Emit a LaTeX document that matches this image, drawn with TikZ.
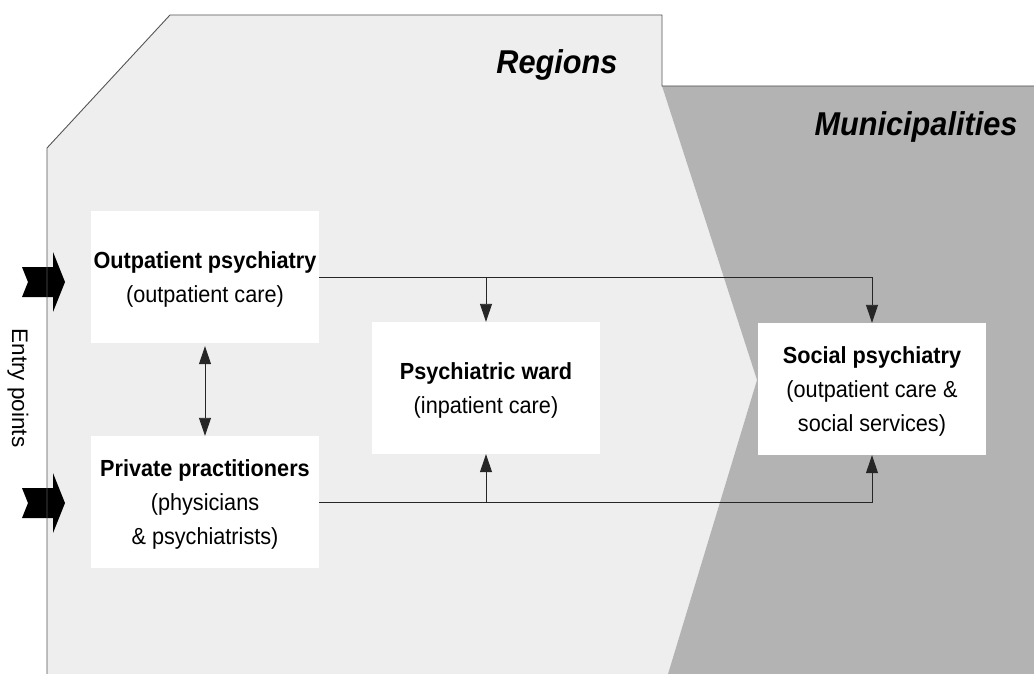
\documentclass[tikz,border=0pt]{standalone}
\usepackage{fontspec}
\setmainfont{Liberation Sans}[FakeStretch=0.93]
\newfontfamily\plainsans{Liberation Sans}
\usetikzlibrary{arrows.meta}
\definecolor{regiongray}{HTML}{EEEEEE}
\definecolor{mungray}{HTML}{B3B3B3}
\definecolor{edgegray}{HTML}{555555}
\tikzset{
  unit/.style={fill=white, minimum width=228pt, minimum height=132pt, inner sep=0pt,
    align=center, font=\fontsize{23.3}{34}\selectfont, text depth=-7pt},
  flow/.style={draw=black!85, line width=0.9pt, -{Triangle[length=18pt,width=12pt]}},
  area/.style={font=\fontsize{33}{38}\selectfont\bfseries\itshape},
  entryarrow/.pic={
    \fill[black] (0,-15) -- (31,-15) -- (31,-30) -- (43,0) -- (31,30) -- (31,15)
      -- (0,15) -- (6,0) -- cycle;
  }
}
\begin{document}
\begin{tikzpicture}[x=1pt,y=-1pt]
\useasboundingbox (0,0) rectangle (1034,674);
% the two areas
\fill[regiongray] (47,674) -- (47,148) -- (170,15) -- (662,15) -- (662,86)
  -- (757,380) -- (668,674) -- cycle;
\fill[mungray] (662,86) -- (1034,86) -- (1034,674) -- (668,674) -- (757,380) -- cycle;
% entry points
\pic at (22,282) {entryarrow};
\pic at (22,503) {entryarrow};
\draw[edgegray, line width=0.9pt] (47,674) -- (47,148) -- (170,15) -- (662,15)
  -- (662,86) -- (1034,86);
\node[rotate=-90, font=\plainsans\fontsize{22.5}{26}\selectfont] (entry) at (18,388) {Entry points};
\node[area] (regions) at (557,65) {Regions};
\node[area] (munic) at (916,127) {Municipalities};
% care units
\node[unit] (out) at (205,277) {\textbf{Outpatient psychiatry}\\(outpatient care)};
\node[unit, text depth=-5pt] (priv) at (205,502) {\textbf{Private practitioners}\\(physicians\\\& psychiatrists)};
\node[unit, text depth=-15pt] (ward) at (486,388) {\textbf{Psychiatric ward}\\(inpatient care)};
\node[unit] (social) at (872,389) {\textbf{Social psychiatry}\\(outpatient care \&\\social services)};
% connections
\draw[flow] (out.east) -- (social.north |- out.east) -- (social.north);
\draw[flow] (ward.north |- out.east) -- (ward.north);
\draw[flow] (priv.east) -- (social.south |- priv.east) -- (social.south);
\draw[flow] (ward.south |- priv.east) -- (ward.south);
\draw[flow, {Triangle[length=18pt,width=12pt]}-{Triangle[length=18pt,width=12pt]}, shorten <=3pt]
  (out.south) -- (priv.north);
\end{tikzpicture}
\end{document}
